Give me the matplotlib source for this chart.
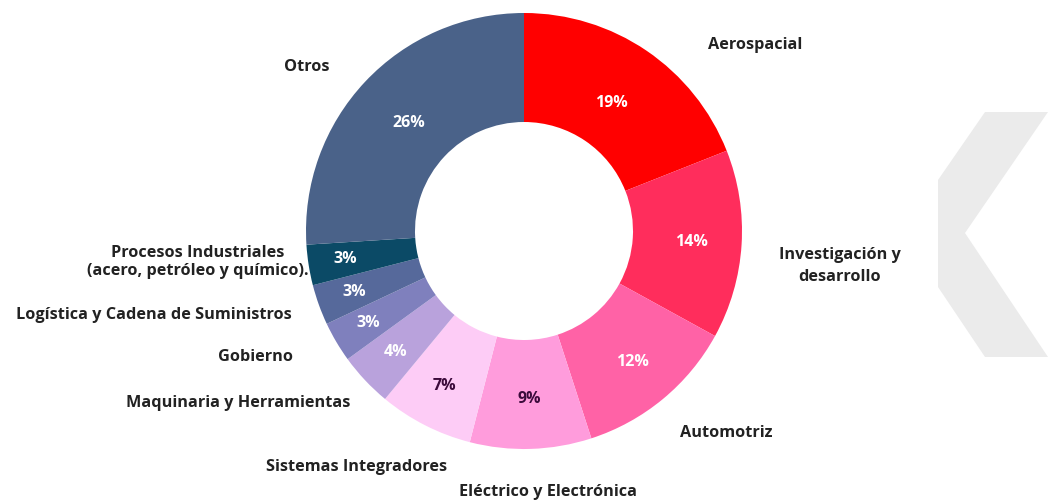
import numpy as np
import matplotlib.pyplot as plt
from matplotlib.patches import Polygon

# data (clockwise from top)
sectores = ["Aerospacial", "Investigación y\ndesarrollo", "Automotriz",
            "Eléctrico y Electrónica", "Sistemas Integradores",
            "Maquinaria y Herramientas", "Gobierno",
            "Logística y Cadena de Suministros",
            "Procesos Industriales\n(acero, petróleo y químico).", "Otros"]
porcentajes = [19, 14, 12, 9, 7, 4, 3, 3, 3, 26]

colores = ["#ff0000", "#ff2d5c", "#ff62a6", "#ff9cdc", "#fdccf6",
           "#b9a2dc", "#7f80bd", "#56699b", "#0b4a66", "#4a6289"]
color_pct = ["white", "white", "white", "#3b0a3b", "#3b0a3b",
             "white", "white", "white", "white", "white"]
# radial position of the % labels (fraction of outer radius)
r_pct = [0.71, 0.77, 0.78, 0.77, 0.80, 0.81, 0.83, 0.83, 0.83, 0.725]

# label positions in image pixels (x, y from top), alignment, line spacing
pos_lbl = [(708, 45, "left", 1.2), (840, 266, "center", 1.47),
           (726, 433, "center", 1.2), (548, 492, "center", 1.2),
           (357, 467, "center", 1.2), (350, 403, "right", 1.2),
           (293, 357, "right", 1.2), (292, 315, "right", 1.2),
           (198, 262, "center", 1.14), (307, 67, "center", 1.2)]

W, H = 1055, 501
plt.rcParams['font.family'] = ['Open Sans', 'DejaVu Sans']

fig = plt.figure(figsize=(W / 100, H / 100), dpi=100)
ax = fig.add_axes([0, 0, 1, 1])

# grey chevron at the right
chev = [(985, 112), (1048, 112), (965, 233), (1048, 357), (985, 357),
        (938, 287), (938, 180)]
ax.add_patch(Polygon([(x, H - y) for x, y in chev], closed=True,
                     facecolor="#ebebeb", edgecolor="none"))

cx, cy, R = 524, H - 231, 218
wedges, _ = ax.pie(porcentajes, colors=colores, startangle=90, counterclock=False,
                   center=(cx, cy), radius=R,
                   wedgeprops=dict(width=R * 0.5, linewidth=0))

for w, p, c, rf in zip(wedges, porcentajes, color_pct, r_pct):
    ang = np.deg2rad((w.theta1 + w.theta2) / 2)
    ax.text(cx + rf * R * np.cos(ang), cy + rf * R * np.sin(ang), f"{p}%",
            ha="center", va="center", color=c, fontsize=11.5, fontweight="bold")

for s, (x, y, ha, ls) in zip(sectores, pos_lbl):
    ax.text(x, H - y, s, ha=ha, va="center", multialignment="center",
            fontsize=11.7, fontweight="bold", color="#222222", linespacing=ls)

ax.set_xlim(0, W)
ax.set_ylim(0, H)
ax.set_aspect("equal")
ax.axis("off")

fig.savefig("out.png", dpi=100, facecolor="white")
